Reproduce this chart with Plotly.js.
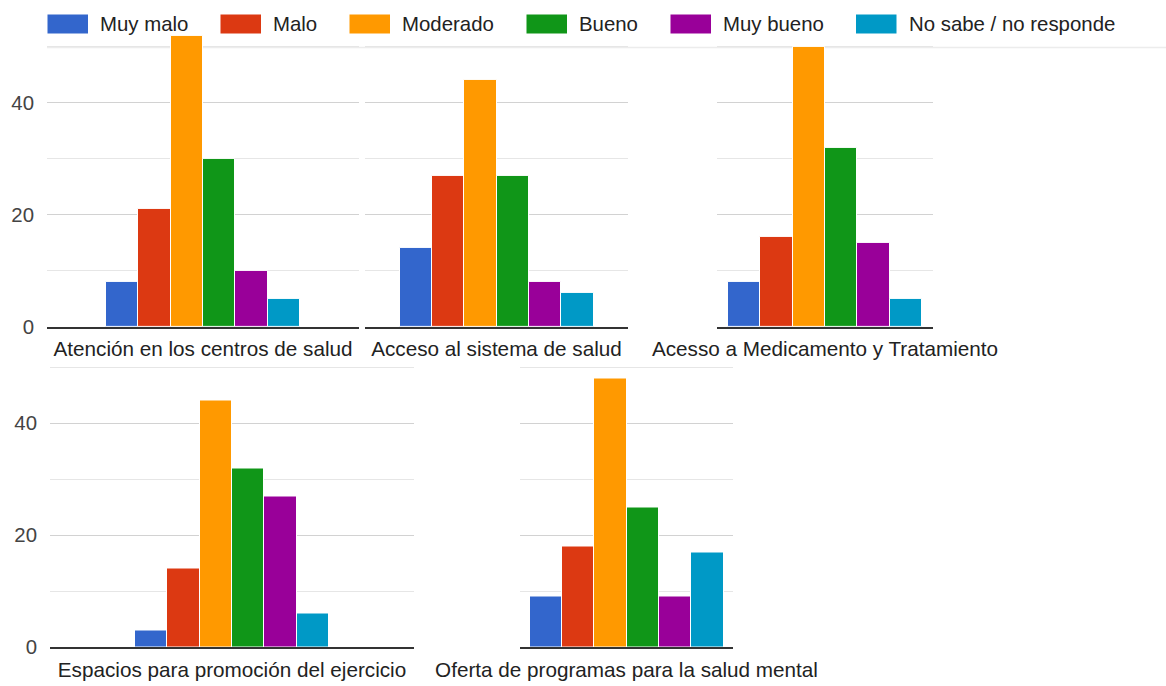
<!DOCTYPE html>
<html>
<head>
<meta charset="utf-8">
<script src="https://cdn.plot.ly/plotly-3.0.1.min.js"></script>
<style>html,body{margin:0;padding:0;background:#fff;}#chart{width:1166px;height:686px;}</style>
</head>
<body>
<div id="chart"></div>
<script>
// ---- Data ----
const categories = [
  "Atención en los centros de salud",
  "Acceso al sistema de salud",
  "Acesso a Medicamento y Tratamiento",
  "Espacios para promoción del ejercicio",
  "Oferta de programas para la salud mental"
];
const seriesNames = ["Muy malo", "Malo", "Moderado", "Bueno", "Muy bueno", "No sabe / no responde"];
const muyMalo   = [8, 14, 8, 3, 9];
const malo      = [21, 27, 16, 14, 18];
const moderado  = [52, 44, 50, 44, 48];
const bueno     = [30, 27, 32, 32, 25];
const muyBueno  = [10, 8, 15, 27, 9];
const noSabe    = [5, 6, 5, 6, 17];
const seriesValues = [muyMalo, malo, moderado, bueno, muyBueno, noSabe];
const colors = ["#3366cc", "#dc3912", "#ff9900", "#109618", "#990099", "#0099c6"];
const yTickVals = [0, 20, 40];

// ---- Layout helpers (pixels -> paper) ----
const W = 1166, H = 686;
const px = x => x / W;
const py = y => 1 - y / H;
const FONT = "Liberation Sans, Arial, sans-serif";
const FS = 20.4;
const FSX = 20.7;

// panel pixel boxes: [left, right] ; rows: [bottom, top]
const panelsX = [[47, 359], [365, 628], [717, 933], [50, 414], [520, 733]];
const panelRow = [0, 0, 0, 1, 1];
const rowsY = [[326.7, 29.9], [647.3, 350.5]];
const groupPx = 194;
const yMax = 53;

const traces = [];
seriesNames.forEach((name, i) => {
  categories.forEach((cat, p) => {
    traces.push({
      type: "bar",
      name: name,
      x: [cat],
      y: [seriesValues[i][p]],
      xaxis: "x" + (p + 1),
      yaxis: "y" + (p + 1),
      marker: { color: colors[i], line: { color: "#ffffff", width: 1 } },
      showlegend: false,
      hoverinfo: "x+y+name"
    });
  });
});

const layout = {
  width: W, height: H,
  margin: { l: 0, r: 0, t: 0, b: 0 },
  paper_bgcolor: "#ffffff", plot_bgcolor: "rgba(0,0,0,0)",
  barmode: "group", bargap: 0, bargroupgap: 0,
  font: { family: FONT, size: FS, color: "#222" },
  showlegend: false,
  shapes: [], annotations: []
};

categories.forEach((cat, p) => {
  const [l, r] = panelsX[p];
  const span = (r - l) / groupPx;
  const row = rowsY[panelRow[p]];
  const sfx = p === 0 ? "" : String(p + 1);
  layout["xaxis" + sfx] = {
    type: "category",
    domain: [px(l), px(r)],
    anchor: "y" + sfx,
    range: [-span / 2, span / 2],
    showline: true, linecolor: "#333333", linewidth: 1.5,
    showgrid: false, zeroline: false, ticks: "",
    ticklabelstandoff: 3,
    tickfont: { family: FONT, size: FSX, color: "#222" },
    fixedrange: true
  };
  const showLabels = (p === 0 || p === 3);
  layout["yaxis" + sfx] = {
    domain: [py(row[0]), py(row[1])],
    anchor: "x" + sfx,
    range: [0, yMax],
    tickmode: "array", tickvals: yTickVals,
    showticklabels: showLabels,
    tickfont: { family: FONT, size: FS, color: "#444" },
    ticklabelstandoff: 12,
    gridcolor: "#d2d2d2", gridwidth: 1,
    minor: { tickmode: "array", tickvals: [10, 30, 50], showgrid: true, gridcolor: "#e6e6e6", gridwidth: 1, ticks: "" },
    zeroline: false, showline: false, ticks: "",
    fixedrange: true
  };
});

// full-width separator under the legend (at the 50 level of the first row)
layout.shapes.push({
  type: "line", xref: "paper", yref: "paper",
  x0: px(47), x1: px(1166), y0: py(47.5), y1: py(47.5),
  line: { color: "#ececec", width: 1.5 }, layer: "below"
});

// custom legend: wide swatches + text
const legendSwatchX = [47.5, 220.5, 349.5, 526.5, 670.5, 856];
const swatchW = 40.5, swatchTop = 14.5, swatchBottom = 33.5;
seriesNames.forEach((name, i) => {
  const x0 = legendSwatchX[i];
  layout.shapes.push({
    type: "rect", xref: "paper", yref: "paper",
    x0: px(x0), x1: px(x0 + swatchW), y0: py(swatchBottom), y1: py(swatchTop),
    fillcolor: colors[i], line: { width: 0 }
  });
  layout.annotations.push({
    xref: "paper", yref: "paper",
    x: px(x0 + swatchW + 10), y: py(23.5),
    xanchor: "left", yanchor: "middle",
    text: name, showarrow: false,
    font: { family: FONT, size: FS, color: "#222" }
  });
});

Plotly.newPlot("chart", traces, layout, { displayModeBar: false, responsive: false });
</script>
</body>
</html>
